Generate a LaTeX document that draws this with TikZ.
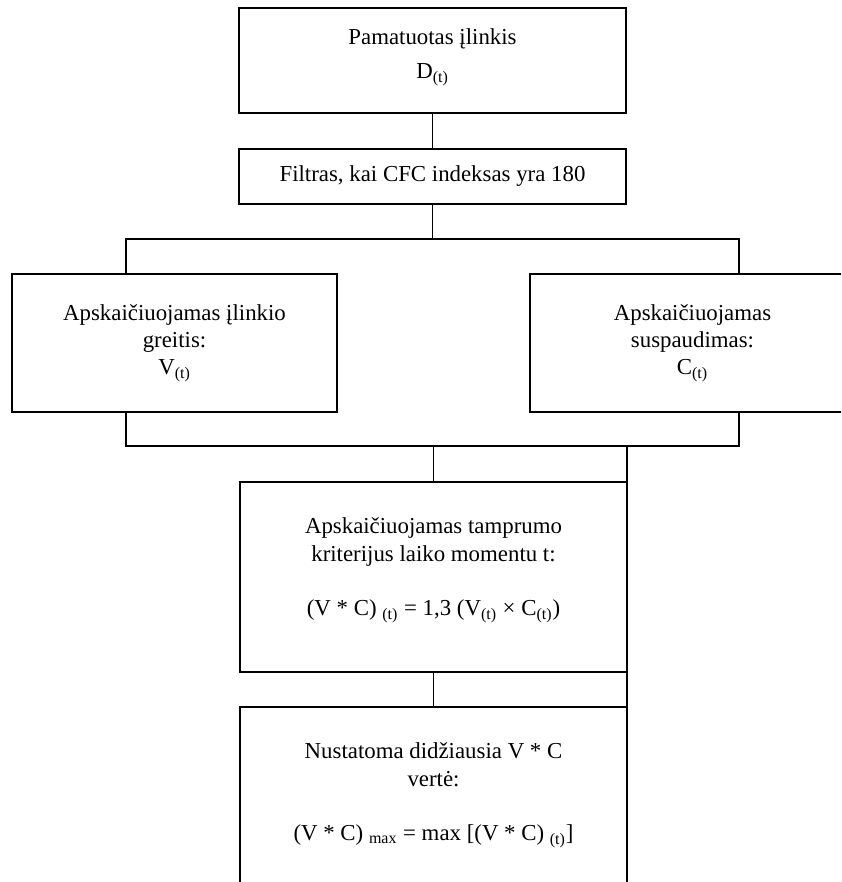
\documentclass[tikz,border=0pt]{standalone}
\usepackage{fontspec}
\setmainfont{Liberation Serif}
\usetikzlibrary{positioning}
\newcommand{\ix}[1]{\textsubscript{#1}}

\begin{document}
\begin{tikzpicture}[
  box/.style={draw,line width=0.9pt,align=center,inner sep=0pt,outer sep=0pt,
    font=\fontsize{13}{15.5}\selectfont},
  wide/.style={box,minimum width=7.74cm},
  side/.style={box,minimum width=6.5cm,minimum height=2.76cm},
  link/.style={line width=0.9pt}]
\path[use as bounding box] (0,0) rectangle (16.82,-17.64);
\clip (0,0) rectangle (16.82,-17.64);
\node[wide,minimum height=2.1cm] (meas) at (8.65,-1.21) {Pamatuotas įlinkis\\[4pt]D\ix{(t)}\\[-8pt]~};
\node[wide,minimum height=1.1cm,below=0.72cm of meas] (filt) {Filtras, kai CFC indeksas yra 180};
\node[side] (vel) at (3.49,-6.86) {Apskaičiuojamas įlinkio\\greitis:\\V\ix{(t)}};
\node[side] (comp) at (13.85,-6.86) {Apskaičiuojamas\\suspaudimas:\\C\ix{(t)}};
\node[wide,minimum height=3.8cm] (crit) at (8.67,-11.54) {Apskaičiuojamas tamprumo\\kriterijus laiko momentu t:\\~\\(V * C) \ix{(t)} = 1,3 (V\ix{(t)} × C\ix{(t)})\\[-4pt]~};
\node[wide,minimum height=3.8cm,below=0.7cm of crit] (vcmax) {Nustatoma didžiausia V * C\\vertė:\\~\\(V * C) \ix{max} = max [(V * C) \ix{(t)}]\\[-4pt]~};
\coordinate (splitL) at (2.52,-4.78);
\coordinate (splitR) at (14.78,-4.78);
\coordinate (joinL) at (2.52,-8.92);
\coordinate (joinR) at (14.78,-8.92);
\draw[link] (meas) -- (filt);
\draw[link] (filt) -- (filt.south |- splitL);
\draw[link] (vel.north -| splitL) -- (splitL) -- (splitR) -- (comp.north -| splitR);
\draw[link] (vel.south -| joinL) -- (joinL) -- (joinR) -- (comp.south -| joinR);
\draw[link] (crit.north |- joinL) -- (crit.north);
\draw[link] (crit.north east |- joinR) -- (crit.north east);
\draw[link] (crit) -- (vcmax);
\draw[link] (crit.south east) -- (vcmax.north east);
\end{tikzpicture}
\end{document}
